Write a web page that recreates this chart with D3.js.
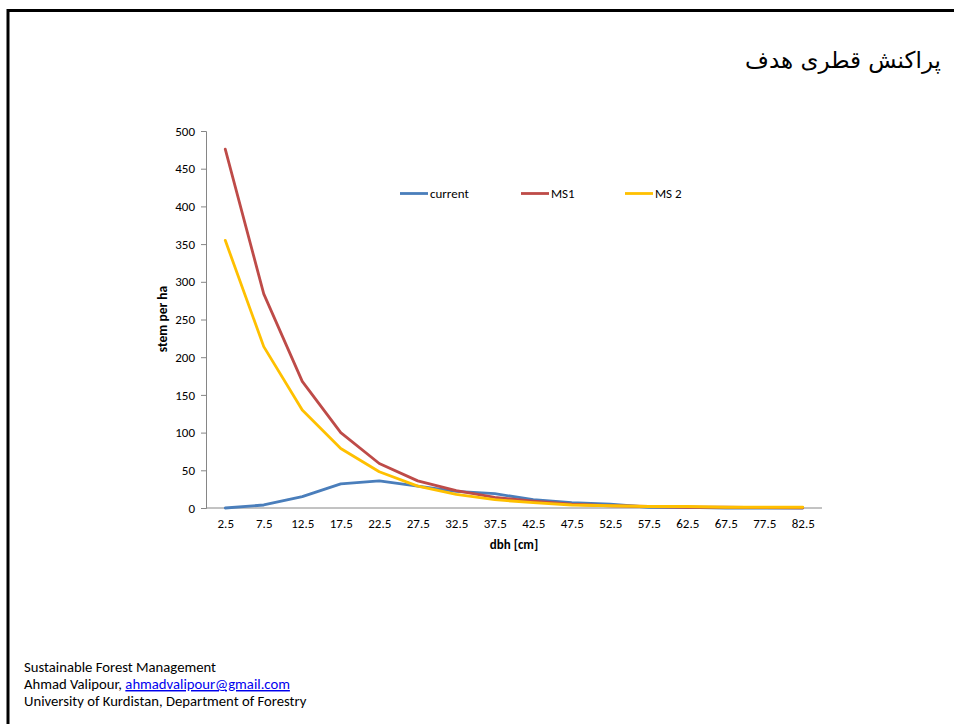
<!DOCTYPE html>
<html><head><meta charset="utf-8">
<script src="https://cdn.jsdelivr.net/npm/d3@7/dist/d3.min.js"></script>
<style>
html,body{margin:0;padding:0;background:#fff;}
svg{display:block;}
</style></head>
<body>
<svg id="c" width="954" height="724"></svg>
<script>
const categories = ["2.5","7.5","12.5","17.5","22.5","27.5","32.5","37.5","42.5","47.5","52.5","57.5","62.5","67.5","77.5","82.5"];
const current = [0, 4, 15, 32, 36, 29, 22, 19, 11, 7, 5, 1, 1, 0, 0, 0];
const ms1 = [476, 284, 168, 100, 59, 36, 23, 14, 9, 5, 3, 2, 1, 1, 0.5, 0.3];
const ms2 = [355, 214, 130, 79, 48, 29, 18, 11, 7, 4, 3, 2, 2, 1, 1, 1];
const yTicks = [0, 50, 100, 150, 200, 250, 300, 350, 400, 450, 500];
const seriesNames = ["current", "MS1", "MS 2"];
const seriesColors = ["#4a7ebb", "#be4b48", "#ffc000"];
const title = "پراکنش قطری هدف";
const footer = ["Sustainable Forest Management", "Ahmad Valipour, ", "University of Kurdistan, Department of Forestry"];
const email = "ahmadvalipour@gmail.com";

const svg = d3.select("#c");
const font = "Calibri, Carlito, Lato, 'Open Sans', sans-serif";

// slide frame
svg.append("line").attr("x1",7).attr("x2",954).attr("y1",10.5).attr("y2",10.5).attr("stroke","#000").attr("stroke-width",3);
svg.append("line").attr("x1",8).attr("x2",8).attr("y1",9).attr("y2",724).attr("stroke","#000").attr("stroke-width",3);

// title
svg.append("text").attr("x",941).attr("y",68).attr("text-anchor","end")
  .style("font-family","Tahoma, 'DejaVu Sans', sans-serif").style("font-size","23px").attr("fill","#000")
  .text(title);

const m = {left:206, right:822, top:131, bottom:508};
const x = d3.scalePoint().domain(categories).range([m.left, m.right]).padding(0.5);
const y = d3.scaleLinear().domain([0,500]).range([m.bottom, m.top]);

// y axis
const yAxis = svg.append("g").attr("transform",`translate(${m.left},0)`)
  .call(d3.axisLeft(y).tickValues(yTicks).tickSize(5).tickPadding(6));
yAxis.select(".domain").attr("stroke","#868686");
yAxis.selectAll(".tick line").attr("stroke","#868686");
yAxis.selectAll("text").style("font-family",font).style("font-size","13px").attr("fill","#000");

// x axis
const xAxis = svg.append("g").attr("transform",`translate(0,${m.bottom})`)
  .call(d3.axisBottom(x).tickSize(0).tickPadding(11));
xAxis.select(".domain").attr("stroke","#868686").attr("d",`M${m.left},0H${m.right}`);
xAxis.selectAll("text").style("font-family",font).style("font-size","13px").attr("fill","#000");

// axis titles
svg.append("text").attr("x",514).attr("y",549).attr("text-anchor","middle")
  .style("font-family",font).style("font-size","13px").style("font-weight","bold").text("dbh [cm]");
svg.append("text").attr("transform","translate(167,319) rotate(-90)").attr("text-anchor","middle")
  .style("font-family",font).style("font-size","13.5px").style("font-weight","bold").text("stem per ha");

// lines
const data = [current, ms1, ms2];
const line = d3.line().x((d,i)=>x(categories[i])).y(d=>y(d));
data.forEach((s,k)=>{
  svg.append("path").datum(s).attr("d",line).attr("fill","none")
    .attr("stroke",seriesColors[k]).attr("stroke-width",2.8).attr("stroke-linejoin","round").attr("stroke-linecap","round");
});

// legend
const legX = [400, 521, 625];
seriesNames.forEach((n,k)=>{
  svg.append("line").attr("x1",legX[k]).attr("x2",legX[k]+28).attr("y1",193.5).attr("y2",193.5)
    .attr("stroke",seriesColors[k]).attr("stroke-width",2.8);
  svg.append("text").attr("x",legX[k]+30).attr("y",198)
    .style("font-family",font).style("font-size","13px").text(n);
});

// footer
const fx = 24;
const fs = "14.7px";
svg.append("text").attr("x",fx).attr("y",672).style("font-family",font).style("font-size",fs).text(footer[0]);
const t2 = svg.append("text").attr("x",fx).attr("y",689).style("font-family",font).style("font-size",fs);
t2.append("tspan").text(footer[1]);
t2.append("tspan").attr("fill","#0000ee").attr("text-decoration","underline").text(email);
svg.append("text").attr("x",fx).attr("y",706).style("font-family",font).style("font-size",fs).text(footer[2]);
</script>
</body></html>
